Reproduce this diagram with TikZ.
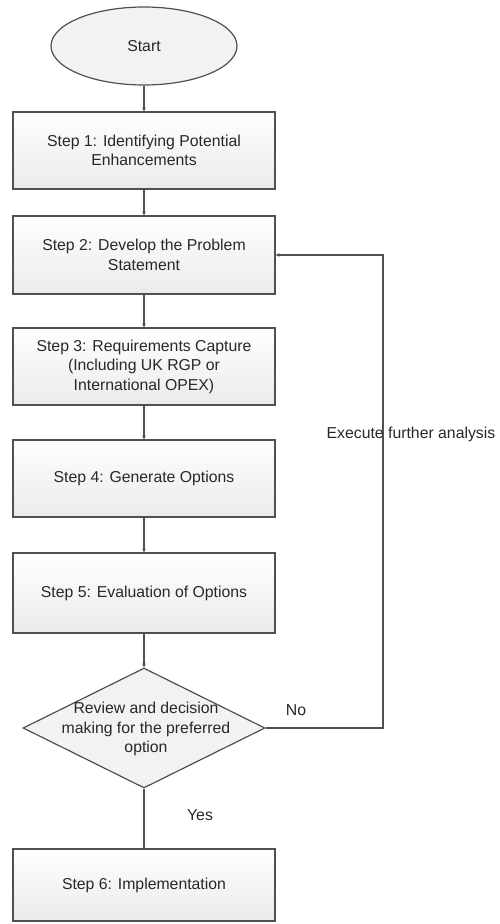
\documentclass[tikz,border=0pt]{standalone}
\usepackage{fontspec}
\setmainfont{Liberation Sans}
\usetikzlibrary{arrows.meta,shapes.geometric}
\definecolor{edge}{HTML}{505050}
\definecolor{ink}{HTML}{282828}
\begin{document}
\begin{tikzpicture}[x=1pt,y=-1pt,
  every node/.style={text=ink,font=\fontsize{15.8}{19.5}\selectfont},
  stepbox/.style={draw=edge,line width=1.2pt,rectangle,minimum width=262pt,
    top color=white,bottom color=gray!16,align=center,inner sep=0pt},
  flow/.style={draw=edge,line width=1.2pt,-{Stealth[length=4pt,width=3.5pt]}},
  plain/.style={draw=edge,line width=1.4pt}]
\useasboundingbox (0,0) rectangle (500,924);

% start terminal
\node[ellipse,draw=edge,line width=1.2pt,fill=gray!10,minimum width=186pt,
  minimum height=78pt,inner sep=0pt] (start) at (144,46) {Start};

% process steps
\node[stepbox,minimum height=77pt] (s1) at (144,150.5)
  {Step 1: Identifying Potential\\Enhancements};
\node[stepbox,minimum height=78pt] (s2) at (144,255)
  {Step 2: Develop the Problem\\Statement};
\node[stepbox,minimum height=77pt] (s3) at (144,366.5)
  {Step 3: Requirements Capture\\(Including UK RGP or\\International OPEX)};
\node[stepbox,minimum height=77pt] (s4) at (144,478.5)
  {Step 4: Generate Options};
\node[stepbox,minimum height=80pt] (s5) at (144,593)
  {Step 5: Evaluation of Options};

% decision
\node[diamond,draw=edge,line width=1.2pt,fill=gray!10,minimum width=242pt,
  minimum height=120pt,inner sep=0pt] (dec) at (144,728) {};
\node[align=center] (dectext) at (146,729)
  {Review and decision\\making for the preferred\\option};

\node[stepbox,minimum height=72pt] (s6) at (144,885)
  {Step 6: Implementation};

% connectors
\draw[flow] (start) -- (s1);
\draw[flow] (s1) -- (s2);
\draw[flow] (s2) -- (s3);
\draw[flow] (s3) -- (s4);
\draw[flow] (s4) -- (s5);
\draw[flow] (s5) -- (dec.north);
\draw[plain] (dec.south) -- (s6);

\coordinate (loopc) at (383,728);
\draw[flow] (dec.east) -- (loopc) |- (s2.east);

% labels
\node (lno) at (296,710) {No};
\node (lyes) at (200,815) {Yes};
\node (lexec) at (411,434) {Execute further analysis};
\end{tikzpicture}
\end{document}
